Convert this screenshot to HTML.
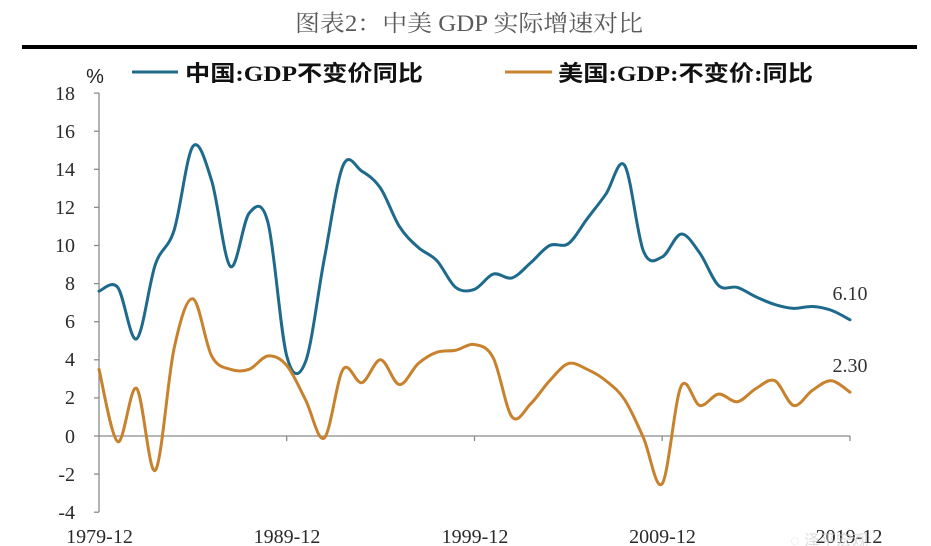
<!DOCTYPE html>
<html>
<head>
<meta charset="utf-8">
<style>
  html, body { margin:0; padding:0; background:#fff; }
  body { width:931px; height:546px; overflow:hidden; }
  svg { display:block; }
</style>
</head>
<body>
<svg id="chart" width="931" height="546" viewBox="0 0 931 546" xmlns="http://www.w3.org/2000/svg">
  <rect x="0" y="0" width="931" height="546" fill="#fff"/>
  <!-- Title -->
  <text x="295" y="31" font-family="'Liberation Serif','Noto Serif CJK SC',serif" font-size="23" fill="#5a5a5a" textLength="348" lengthAdjust="spacingAndGlyphs">图表2：中美 GDP 实际增速对比</text>
  <rect x="22" y="45" width="895" height="4" fill="#000"/>

  <!-- Legend -->
  <text x="95" y="83" text-anchor="middle" font-family="'Liberation Sans',sans-serif" font-size="20" fill="#222">%</text>
  <line x1="132" y1="72" x2="178" y2="72" stroke="#1e6a8c" stroke-width="3"/>
  <text x="185" y="81" font-family="'Liberation Serif','Noto Sans CJK SC',sans-serif" font-weight="bold" font-size="22" fill="#111" textLength="238" lengthAdjust="spacingAndGlyphs">中国:GDP不变价同比</text>
  <line x1="505" y1="72" x2="552" y2="72" stroke="#c8822e" stroke-width="3"/>
  <text x="558" y="81" font-family="'Liberation Serif','Noto Sans CJK SC',sans-serif" font-weight="bold" font-size="22" fill="#111" textLength="255" lengthAdjust="spacingAndGlyphs">美国:GDP:不变价:同比</text>

  <!-- Axes -->
  <g stroke="#8a8a8a" stroke-width="1.3" fill="none">
    <line x1="99" y1="93" x2="99" y2="512"/>
    <line x1="94" y1="436" x2="850" y2="436"/>
    <line x1="94" y1="93.1" x2="99" y2="93.1"/>
    <line x1="94" y1="131.2" x2="99" y2="131.2"/>
    <line x1="94" y1="169.3" x2="99" y2="169.3"/>
    <line x1="94" y1="207.4" x2="99" y2="207.4"/>
    <line x1="94" y1="245.5" x2="99" y2="245.5"/>
    <line x1="94" y1="283.6" x2="99" y2="283.6"/>
    <line x1="94" y1="321.7" x2="99" y2="321.7"/>
    <line x1="94" y1="359.8" x2="99" y2="359.8"/>
    <line x1="94" y1="397.9" x2="99" y2="397.9"/>
    <line x1="94" y1="474.1" x2="99" y2="474.1"/>
    <line x1="94" y1="512.2" x2="99" y2="512.2"/>
    <line x1="286.7" y1="436" x2="286.7" y2="441"/>
    <line x1="474.5" y1="436" x2="474.5" y2="441"/>
    <line x1="662.2" y1="436" x2="662.2" y2="441"/>
    <line x1="850" y1="436" x2="850" y2="441"/>
  </g>

  <!-- Y labels -->
  <g font-family="'Liberation Serif',serif" font-size="20" fill="#2a2a2a" text-anchor="end">
    <text x="75" y="100">18</text>
    <text x="75" y="138">16</text>
    <text x="75" y="176">14</text>
    <text x="75" y="214">12</text>
    <text x="75" y="252">10</text>
    <text x="75" y="290">8</text>
    <text x="75" y="328">6</text>
    <text x="75" y="366">4</text>
    <text x="75" y="404">2</text>
    <text x="75" y="443">0</text>
    <text x="75" y="481">-2</text>
    <text x="75" y="519">-4</text>
  </g>

  <!-- X labels -->
  <g font-family="'Liberation Serif',serif" font-size="20" fill="#2a2a2a" text-anchor="middle">
    <text x="99.5" y="543">1979-12</text>
    <text x="287" y="543">1989-12</text>
    <text x="475" y="543">1999-12</text>
    <text x="662.5" y="543">2009-12</text>
    <text x="849" y="543">2019-12</text>
  </g>

  <!-- watermark (faint) -->
  <text x="790" y="546" font-family="'Liberation Sans','Noto Sans CJK SC',sans-serif" font-size="16" fill="#cfcfcf" opacity="0.7">◌ 泽平宏观</text>

  <!-- Series -->
  <path id="cn" d="" fill="none" stroke="#1e6a8c" stroke-width="3" stroke-linejoin="round" stroke-linecap="round"/>
  <path id="us" d="" fill="none" stroke="#c8822e" stroke-width="3" stroke-linejoin="round" stroke-linecap="round"/>

  <!-- End labels -->
  <g font-family="'Liberation Serif',serif" font-size="20" fill="#333" text-anchor="middle">
    <text x="850" y="300">6.10</text>
    <text x="850" y="372">2.30</text>
  </g>
</svg>
<script>
(function(){
  var cn=[7.6,7.8,5.1,9.0,10.8,15.2,13.4,8.9,11.7,11.2,4.2,3.9,9.3,14.2,13.9,13.0,11.0,9.9,9.2,7.8,7.7,8.5,8.3,9.1,10.0,10.1,11.4,12.7,14.2,9.7,9.4,10.6,9.6,7.9,7.8,7.3,6.9,6.7,6.8,6.6,6.1];
  var us=[3.5,-0.3,2.5,-1.8,4.6,7.2,4.2,3.5,3.5,4.2,3.7,1.9,-0.1,3.5,2.8,4.0,2.7,3.8,4.4,4.5,4.8,4.1,1.0,1.7,2.9,3.8,3.5,2.9,1.9,-0.1,-2.5,2.6,1.6,2.2,1.8,2.5,2.9,1.6,2.4,2.9,2.3];
  function X(i){return 99+i*18.775;}
  function Y(v){return 436-v*19.05;}
  function path(d){
    var p=d.map(function(v,i){return [X(i),Y(v)];});
    var s="M"+p[0][0].toFixed(2)+","+p[0][1].toFixed(2);
    for(var i=0;i<p.length-1;i++){
      var p0=p[i>0?i-1:i],p1=p[i],p2=p[i+1],p3=p[i+2<p.length?i+2:i+1];
      var c1x=p1[0]+(p2[0]-p0[0])/6,c1y=p1[1]+(p2[1]-p0[1])/6;
      var c2x=p2[0]-(p3[0]-p1[0])/6,c2y=p2[1]-(p3[1]-p1[1])/6;
      s+=" C"+c1x.toFixed(2)+","+c1y.toFixed(2)+" "+c2x.toFixed(2)+","+c2y.toFixed(2)+" "+p2[0].toFixed(2)+","+p2[1].toFixed(2);
    }
    return s;
  }
  document.getElementById("cn").setAttribute("d",path(cn));
  document.getElementById("us").setAttribute("d",path(us));
})();
</script>
</body>
</html>
